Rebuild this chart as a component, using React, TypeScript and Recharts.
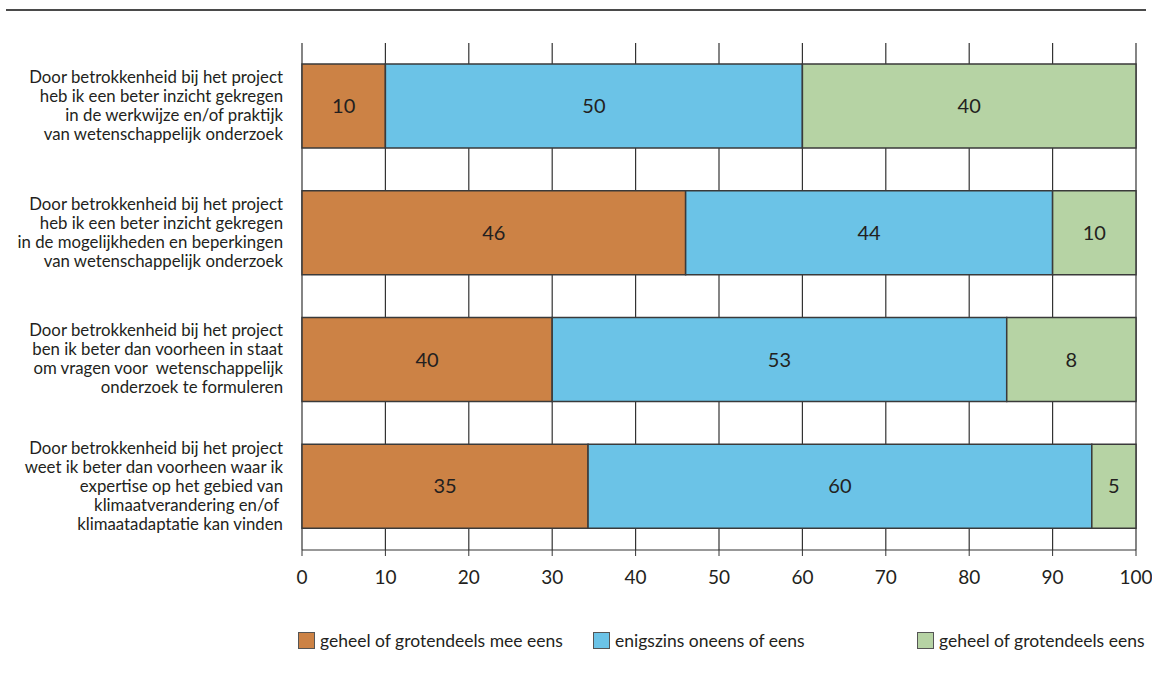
import { BarChart, Bar, XAxis, YAxis, CartesianGrid, LabelList } from "recharts";

const CATEGORIES = [
  ["Door betrokkenheid bij het project", "heb ik een beter inzicht gekregen", "in de werkwijze en/of praktijk", "van wetenschappelijk onderzoek"],
  ["Door betrokkenheid bij het project", "heb ik een beter inzicht gekregen", "in de mogelijkheden en beperkingen", "van wetenschappelijk onderzoek"],
  ["Door betrokkenheid bij het project", "ben ik beter dan voorheen in staat", "om vragen voor  wetenschappelijk", "onderzoek te formuleren"],
  ["Door betrokkenheid bij het project", "weet ik beter dan voorheen waar ik", "expertise op het gebied van", "klimaatverandering en/of ", "klimaatadaptatie kan vinden"],
];

// bar lengths as drawn in the picture
const MEE_EENS = [10, 46, 30, 34.3];
const ENIGSZINS = [50, 44, 54.5, 60.4];
const EENS = [40, 10, 15.5, 5.3];

// printed numbers inside the bars
const MEE_EENS_LABELS = ["10", "46", "40", "35"];
const ENIGSZINS_LABELS = ["50", "44", "53", "60"];
const EENS_LABELS = ["40", "10", "8", "5"];

const X_TICKS = [0, 10, 20, 30, 40, 50, 60, 70, 80, 90, 100];

const SERIES = [
  { key: "a", label: "la", name: "geheel of grotendeels mee eens", color: "#cc8245" },
  { key: "b", label: "lb", name: "enigszins oneens of eens", color: "#6bc3e7" },
  { key: "c", label: "lc", name: "geheel of grotendeels eens", color: "#b6d3a4" },
];

const data = CATEGORIES.map((lines, i) => ({
  name: "q" + i,
  a: MEE_EENS[i],
  b: ENIGSZINS[i],
  c: EENS[i],
  la: MEE_EENS_LABELS[i],
  lb: ENIGSZINS_LABELS[i],
  lc: EENS_LABELS[i],
}));

const FONT = "Lato, 'Open Sans', sans-serif";
const TEXT = "#231f20";

function CategoryTick(props: any) {
  const { y, index } = props;
  const lines = CATEGORIES[index] || [];
  const lh = 19;
  const start = -((lines.length - 1) / 2) * lh;
  return (
    <text x={283} y={y} textAnchor="end" fill={TEXT} fontSize={16.8} fontFamily={FONT} style={{ whiteSpace: "pre" }}>
      {lines.map((l, i) => (
        <tspan key={i} x={283} dy={i === 0 ? start + 5 : lh}>
          {l}
        </tspan>
      ))}
    </text>
  );
}

function ChartLegend() {
  const lefts = [298, 593, 917];
  return (
    <div style={{ position: "absolute", left: 0, top: 630, width: 1152, height: 20, fontFamily: FONT, fontSize: 17.5, color: TEXT }}>
      {SERIES.map((s, i) => (
        <div key={s.key} style={{ position: "absolute", left: lefts[i], top: 0, display: "flex", alignItems: "center", whiteSpace: "nowrap" }}>
          <span style={{ display: "inline-block", width: 15, height: 15, background: s.color, border: "1px solid #555", marginRight: 5 }} />
          <span>{s.name}</span>
        </div>
      ))}
    </div>
  );
}

export default function App() {
  return (
    <div style={{ position: "absolute", left: 0, top: 0, width: 1152, height: 683, background: "#fff" }}>
      <div style={{ position: "absolute", left: 6, top: 9, width: 1140, height: 2, background: "#4a4a4a" }} />
      <BarChart
        width={1152}
        height={683}
        data={data}
        layout="vertical"
        margin={{ top: 43, right: 16, left: 0, bottom: 103 }}
        barSize={84}
      >
        <CartesianGrid vertical horizontal={false} stroke="#333" strokeWidth={1.2} />
        <XAxis
          type="number"
          domain={[0, 100]}
          ticks={X_TICKS}
          interval={0}
          height={30}
          tick={{ fill: TEXT, fontSize: 19, fontFamily: FONT }}
          tickLine={{ stroke: "#333" }}
          axisLine={{ stroke: "#333" }}
          tickSize={6}
          tickMargin={15}
        />
        <YAxis
          type="category"
          dataKey="name"
          width={302}
          axisLine={false}
          tickLine={false}
          tick={<CategoryTick />}
          interval={0}
        />
        {SERIES.map((s) => (
          <Bar
            key={s.key}
            dataKey={s.key}
            name={s.name}
            stackId="s"
            fill={s.color}
            stroke="#3a3a3a"
            strokeWidth={1.5}
            isAnimationActive={false}
          >
            <LabelList dataKey={s.label} position="center" fill={TEXT} fontSize={20} fontFamily={FONT} />
          </Bar>
        ))}
      </BarChart>
      <ChartLegend />
    </div>
  );
}
